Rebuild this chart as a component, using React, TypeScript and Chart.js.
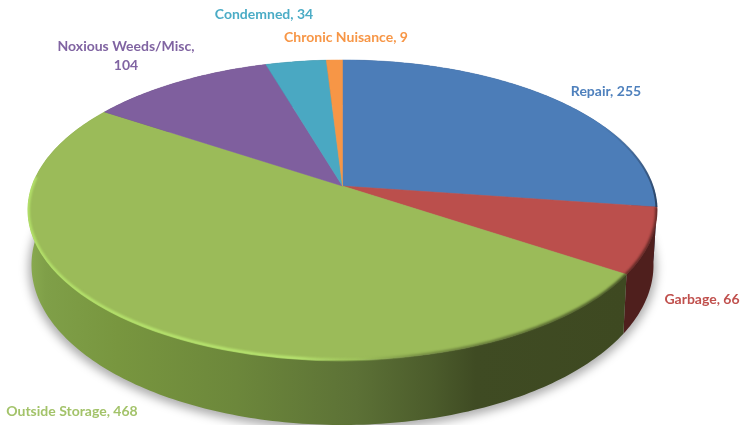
import React, { useEffect, useRef } from "react";
import { Chart, registerables } from "chart.js";

Chart.register(...registerables);

const categories = ["Repair", "Garbage", "Outside Storage", "Noxious Weeds/Misc", "Condemned", "Chronic Nuisance"];
const values = [255, 66, 468, 104, 34, 9];
const sliceColors = ["#4c7db8", "#bb4f4c", "#9bbb59", "#7f5f9e", "#4aa8c2", "#f79646"];
const wallColors = ["#2f4c70", "#4f1f1d", "#3f4a22", "#4d3a60", "#2d6675", "#95591f"];
const labelColors = ["#4f81bd", "#c0504d", "#a3c36a", "#8064a2", "#4bacc6", "#f79646"];
const labelAnchors = [
  { x: 606, y: 91 },
  { x: 702, y: 299 },
  { x: 72, y: 411 },
  { x: 126, y: 46 },
  { x: 264, y: 14 },
  { x: 346, y: 37 },
];

const CX = 342.5;
const APEX_Y = 186;
const P = 0.16;
const KY = 146.2;
const KX = 310.4;
const TOP = { cy: 210, rx: 314.5, ry: 150 };
const LOW = { cy: 265, rx: 311, ry: 160 };

function project(angle: number) {
  const X = Math.cos(angle);
  const Y = Math.sin(angle);
  const w = 1 - P * Y;
  return { x: CX + (KX * X) / w, y: APEX_Y + (KY * Y) / w };
}

function lowerOf(pt: { x: number; y: number }) {
  const t = Math.atan2((pt.y - TOP.cy) / TOP.ry, (pt.x - CX) / TOP.rx);
  return { x: CX + LOW.rx * Math.cos(t), y: LOW.cy + LOW.ry * Math.sin(t) };
}

function samples(a: number, b: number) {
  const n = Math.max(2, Math.ceil(Math.abs(b - a) * 60));
  const out = [];
  for (let i = 0; i <= n; i++) out.push(project(a + ((b - a) * i) / n));
  return out;
}

function tracePolyline(ctx: CanvasRenderingContext2D, pts: { x: number; y: number }[]) {
  ctx.beginPath();
  pts.forEach((p, i) => (i ? ctx.lineTo(p.x, p.y) : ctx.moveTo(p.x, p.y)));
}

const pie3d = {
  id: "pie3d",
  beforeDatasetsDraw(chart: any) {
    const ctx: CanvasRenderingContext2D = chart.ctx;
    const arcs = chart.getDatasetMeta(0).data;

    // soft shadow under the disc
    ctx.save();
    ctx.filter = "blur(5px)";
    ctx.fillStyle = "rgba(0,0,0,0.32)";
    ctx.beginPath();
    ctx.ellipse(CX, LOW.cy + 3, LOW.rx + 3, LOW.ry + 2, 0, 0, Math.PI * 2);
    ctx.fill();
    ctx.restore();

    // side walls
    arcs.forEach((arc: any, i: number) => {
      const top = samples(arc.startAngle, arc.endAngle);
      const low = top.map(lowerOf).reverse();
      tracePolyline(ctx, top.concat(low));
      ctx.closePath();
      if (i === 2) {
        const g = ctx.createLinearGradient(28, 0, 625, 0);
        g.addColorStop(0, "#8aab50");
        g.addColorStop(0.03, "#7f9f48");
        g.addColorStop(0.15, "#78963f");
        g.addColorStop(0.35, "#6c873b");
        g.addColorStop(0.55, "#5c7136");
        g.addColorStop(0.68, "#4b5b2b");
        g.addColorStop(0.75, "#3f4b23");
        g.addColorStop(1, "#3e4921");
        ctx.fillStyle = g;
      } else {
        ctx.fillStyle = wallColors[i];
      }
      ctx.fill();
    });

    // top faces, from the library's own arc angles
    arcs.forEach((arc: any) => {
      const pts = samples(arc.startAngle, arc.endAngle);
      tracePolyline(ctx, [{ x: CX, y: APEX_Y }].concat(pts));
      ctx.closePath();
      ctx.fillStyle = arc.options.backgroundColor;
      ctx.fill();
      ctx.strokeStyle = arc.options.backgroundColor;
      ctx.lineWidth = 0.5;
      ctx.stroke();
    });

    // rim bevel along the front edge, kept to the disc's outline
    const rim = (a: number, b: number, color: any, width: number, blur: number) => {
      ctx.save();
      ctx.beginPath();
      ctx.ellipse(CX, TOP.cy, TOP.rx + 0.5, TOP.ry + 1.5, 0, 0, Math.PI * 2);
      ctx.clip();
      ctx.filter = `blur(${blur}px)`;
      tracePolyline(ctx, samples(a, b));
      ctx.strokeStyle = color;
      ctx.lineWidth = width;
      ctx.lineCap = "butt";
      ctx.stroke();
      ctx.restore();
    };
    const green = arcs[2];
    const hi = ctx.createLinearGradient(28, 0, 625, 0);
    hi.addColorStop(0, "rgba(180,226,106,1)");
    hi.addColorStop(0.45, "rgba(184,230,112,1)");
    hi.addColorStop(0.55, "rgba(165,205,95,0.5)");
    hi.addColorStop(0.66, "rgba(80,95,45,0.5)");
    hi.addColorStop(1, "rgba(62,73,33,0.9)");
    rim(green.startAngle, Math.PI * 1.02, hi, 3.5, 0.8);
    rim(arcs[1].startAngle, arcs[1].endAngle, "rgba(79,31,29,0.8)", 3.5, 0.8);
    const blueRim = ctx.createLinearGradient(0, 125, 0, 207);
    blueRim.addColorStop(0, "rgba(40,62,92,0)");
    blueRim.addColorStop(1, "rgba(40,62,92,0.95)");
    rim(arcs[0].startAngle + 0.9, arcs[0].endAngle, blueRim, 3, 0.6);

    return false;
  },
  afterDraw(chart: any) {
    const ctx: CanvasRenderingContext2D = chart.ctx;
    ctx.save();
    ctx.font = 'bold 14px "Lato"';
    ctx.textAlign = "center";
    ctx.textBaseline = "middle";
    categories.forEach((name, i) => {
      ctx.fillStyle = labelColors[i];
      const a = labelAnchors[i];
      if (name === "Noxious Weeds/Misc") {
        ctx.fillText(`${name},`, a.x, a.y);
        ctx.fillText(String(values[i]), a.x, a.y + 19);
      } else {
        ctx.fillText(`${name}, ${values[i]}`, a.x, a.y);
      }
    });
    ctx.restore();
  },
};

export default function App() {
  const ref = useRef<HTMLCanvasElement>(null);
  useEffect(() => {
    document.body.style.margin = "0";
    const chart = new Chart(ref.current!, {
      type: "pie",
      data: {
        labels: categories,
        datasets: [{ data: values, backgroundColor: sliceColors, borderWidth: 0 }],
      },
      options: {
        responsive: false,
        animation: false,
        plugins: { legend: { display: false }, tooltip: { enabled: false } },
      },
      plugins: [pie3d],
    } as any);
    return () => chart.destroy();
  }, []);
  return (
    <div style={{ width: 740, height: 425, background: "#fff" }}>
      <canvas ref={ref} width={740} height={425} style={{ display: "block" }} />
    </div>
  );
}
